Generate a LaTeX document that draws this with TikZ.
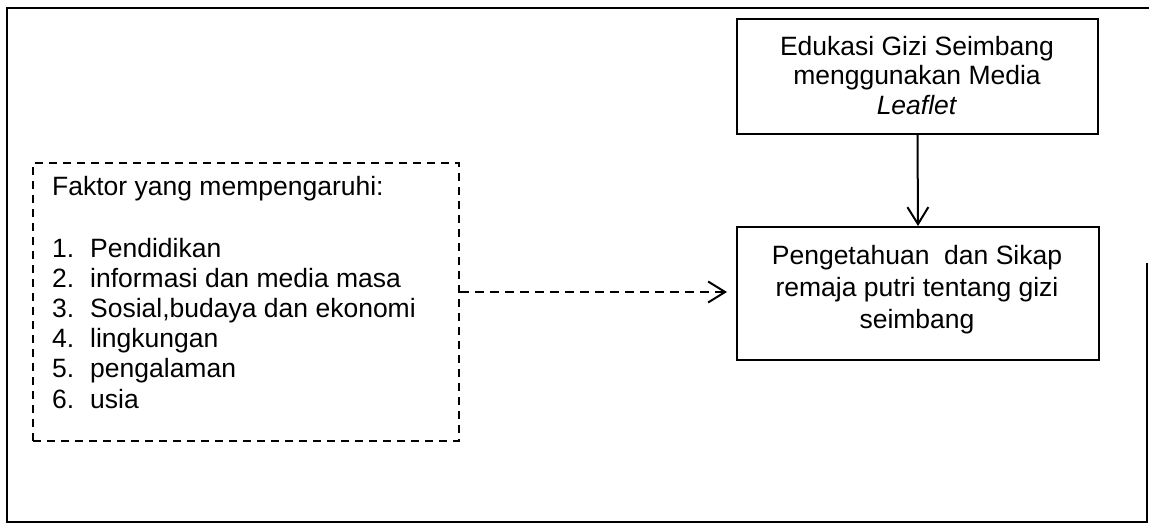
\documentclass[tikz,border=0pt]{standalone}
\usepackage{fontspec}
\setmainfont{Liberation Sans}
\usetikzlibrary{arrows.meta}
\begin{document}
\begin{tikzpicture}[x=1pt,y=-1pt,
  txt/.style={inner sep=0pt, anchor=base west, font=\fontsize{26.5}{30}\selectfont},
  solidbox/.style={draw, line width=2pt, inner sep=0pt, anchor=north west},
  dashbox/.style={draw, line width=2pt, dash pattern=on 8pt off 6pt, inner sep=0pt, anchor=north west},
  boxtxt/.style={inner sep=0pt, align=center, anchor=base},
  vtip/.style={-{Straight Barb[length=17pt,width=21pt,line width=2pt]}}
]
\useasboundingbox (0,0) rectangle (1149,527);
% outer frame
\coordinate (fa) at (1147,263);
\coordinate (fb) at (1147,522);
\coordinate (fc) at (7,522);
\coordinate (fd) at (7,8);
\coordinate (fe) at (1149,8);
\draw[line width=2.2pt] (fa) -- (fb) -- (fc) -- (fd) -- (fe);

% top box
\node[solidbox, minimum width=361pt, minimum height=115pt] (edu) at (736,18) {};
\node[boxtxt, font=\fontsize{26.5}{29.5}\selectfont] (edut) at (917,114) {Edukasi Gizi Seimbang\\menggunakan Media\\\textit{Leaflet}};

% bottom box
\node[solidbox, minimum width=362pt, minimum height=133pt] (pen) at (736,226) {};
\node[boxtxt, font=\fontsize{26.5}{32}\selectfont] (pent) at (917,328) {Pengetahuan\ \ dan Sikap\\remaja putri tentang gizi\\seimbang};

% dashed box
\node[dashbox, minimum width=426pt, minimum height=278pt] (fak) at (32,162) {};
\node[txt] (f0) at (52,195) {Faktor yang mempengaruhi:};
\node[txt] (n1) at (52,257) {1.};
\node[txt] (i1) at (90,257) {Pendidikan};
\node[txt] (n2) at (52,287) {2.};
\node[txt] (i2) at (90,287) {informasi dan media masa};
\node[txt] (n3) at (52,317) {3.};
\node[txt] (i3) at (90,317) {Sosial,budaya dan ekonomi};
\node[txt] (n4) at (52,347) {4.};
\node[txt] (i4) at (90,347) {lingkungan};
\node[txt] (n5) at (52,377) {5.};
\node[txt] (i5) at (90,377) {pengalaman};
\node[txt] (n6) at (52,408) {6.};
\node[txt] (i6) at (90,408) {usia};

% connectors
\draw[vtip, line width=2pt] (edu.south) -- (pen.north);
\draw[vtip, line width=2pt, dash pattern=on 9pt off 6pt, shorten >=9pt] (fak.east |- 0,292) -- (pen.west |- 0,292);
\end{tikzpicture}
\end{document}
